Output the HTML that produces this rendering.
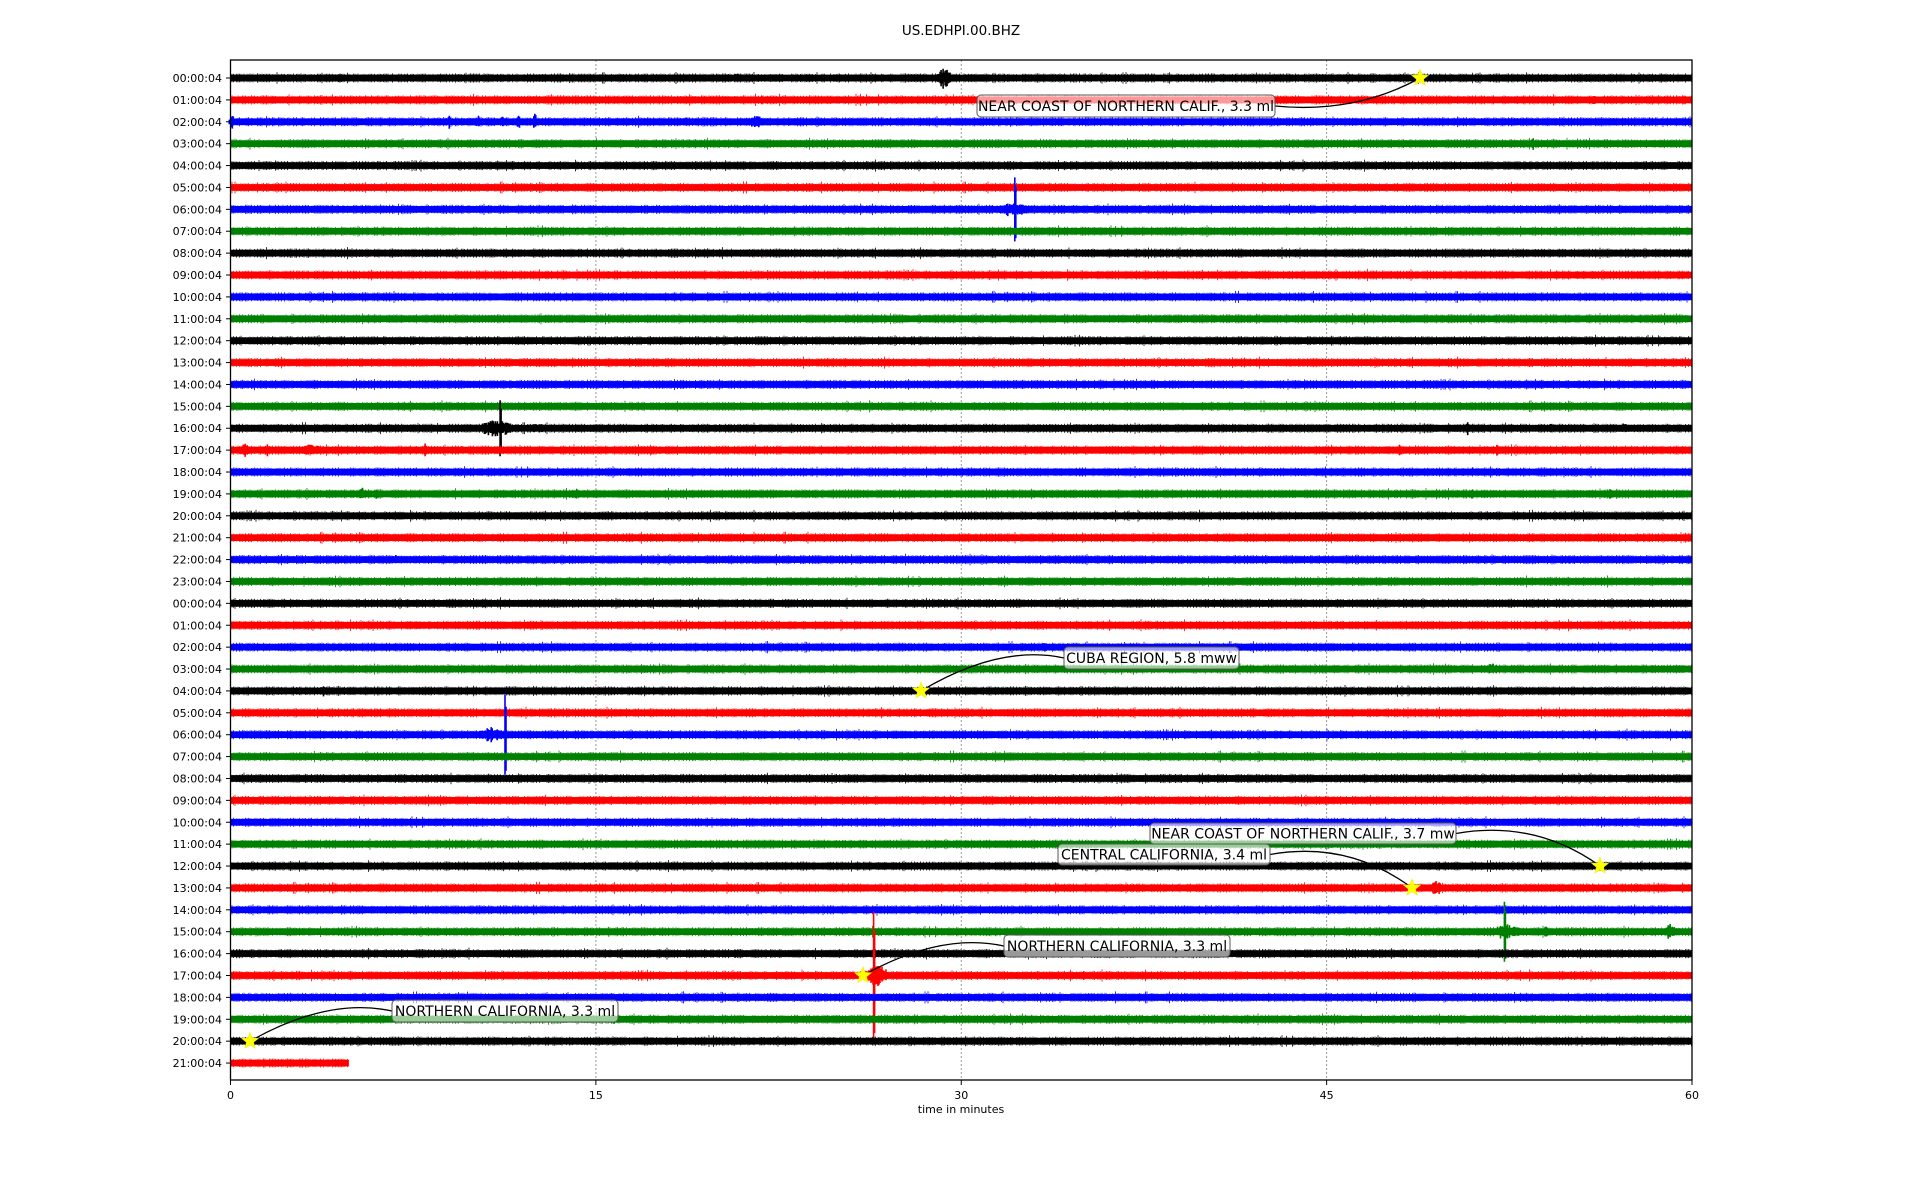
<!DOCTYPE html>
<html><head><meta charset="utf-8">
<style>
html,body{margin:0;padding:0;background:#fff;}
svg{display:block;font-family:"DejaVu Sans","Liberation Sans",sans-serif;}
</style></head>
<body>
<svg id="s" width="1920" height="1200" viewBox="0 0 1920 1200" xmlns="http://www.w3.org/2000/svg">
<rect width="1920" height="1200" fill="#fff"/>
<text x="961" y="35" font-size="13.5" text-anchor="middle">US.EDHPI.00.BHZ</text>
<g id="grid" stroke="#999" stroke-width="1" stroke-dasharray="2,2">
<line x1="595.9" y1="60" x2="595.9" y2="1080"/>
<line x1="961.3" y1="60" x2="961.3" y2="1080"/>
<line x1="1326.6" y1="60" x2="1326.6" y2="1080"/>
</g>
<g id="traces"></g>
<g id="ann"></g>
<rect x="230.5" y="60" width="1461.5" height="1020" fill="none" stroke="#000" stroke-width="1.3"/>
<g id="ticks" font-size="11"></g>
<text x="961" y="1113" font-size="11" text-anchor="middle">time in minutes</text>
</svg>
<script>
(function(){
var NS="http://www.w3.org/2000/svg";
var seed=12345;function rnd(){seed=(seed*1103515245+12345)&0x7fffffff;return seed/0x7fffffff;}
var L=230.5,R=1692,W=R-L;function X(m){return L+m*W/60;}
function Y(i){return 78+21.89*i;}
var cols=["#000","#f00","#00f","#008000"];
var labels=[];for(var i=0;i<46;i++){var h=i%24;labels.push((h<10?"0":"")+h+":00:04");}
var ev={
0:[[29.3,11,0.5,'b'],[4.5,5,0.3,'b'],[20.8,6,0.2,'b']],
1:[[56,5,0.2,'b'],[59.7,5,0.3,'b'],[21.8,4,0.3,'b'],[26.2,4,0.1,'b'],[23.8,3,0.2,'b']],
2:[[0.1,7,0.3,'b'],[9,7,0.2,'b'],[10.2,7,0.2,'b'],[11.2,6,0.3,'b'],[11.8,8,0.2,'b'],[12.5,9,0.1,'b'],[18.7,5,0.3,'b'],[21.6,8,0.4,'b']],
3:[[53.5,6,0.2,'b'],[23.7,4,0.3,'b']],
6:[[32.2,32,0.05,'s'],[32.1,7,1.2,'b']],
16:[[11.07,28,0.05,'s'],[10.9,9,1.2,'b'],[12.6,6,0.5,'b'],[50.8,7,0.1,'b'],[54.2,5,0.2,'b'],[57.2,6,0.3,'b'],[59.9,5,0.1,'b']],
15:[[11.07,5,0.2,'b']],
17:[[0.6,7,0.4,'b'],[1.5,6,0.3,'b'],[3.3,7,0.8,'b'],[8,8,0.1,'b'],[9.5,5,0.3,'b'],[48,6,0.2,'b'],[52,6,0.1,'b'],[17.3,4,0.2,'b'],[23.6,5,0.1,'b'],[56.3,4,0.2,'b']],
18:[[3.3,4,0.2,'b'],[29.6,4,0.2,'b'],[51,5,0.1,'b']],
19:[[5.4,7,0.2,'b'],[6,5,0.2,'b'],[14.2,6,0.3,'b'],[51,6,0.1,'b'],[56.7,6,0.3,'b']],
20:[[2.6,4,0.2,'b'],[18.8,4,0.2,'b']],
21:[[28.8,4,0.2,'b'],[51.6,5,0.2,'b'],[56,4,0.2,'b']],
22:[[6.8,5,0.6,'b'],[12.9,4,0.2,'b'],[20.5,4,0.2,'b'],[55,4,0.2,'b']],
23:[[17.1,4,0.3,'b'],[22.2,4,0.2,'b']],
24:[[10.4,6,0.1,'b']],
26:[[33.4,6,0.1,'b']],
27:[[51.8,6,0.5,'b']],
28:[[3.8,5,0.7,'b']],
30:[[11.27,40,0.05,'s'],[10.7,8,0.9,'b']],
37:[[49.5,7,0.5,'b'],[32.8,4,0.1,'b']],
39:[[52.3,30,0.05,'s'],[52.4,8,1.1,'b'],[54,6,0.3,'b'],[59.1,8,0.4,'b']],
41:[[26.4,64,0.05,'s'],[26.5,12,0.9,'b'],[35,5,0.2,'b'],[36.8,4,0.1,'b']],
42:[[14.4,6,0.1,'b'],[12,4,0.3,'b'],[18.8,4,0.2,'b'],[53.9,4,0.2,'b']],
43:[[15.7,5,0.3,'b'],[41.5,4,0.3,'b']],
40:[[20.8,5,0.3,'b']]
};
var g=document.getElementById('traces');
for(var i=0;i<46;i++){
  var y=Y(i),c=cols[i%4];
  var end=(i==45)?4.86:60;
  var x1=X(end);
  var r=document.createElementNS(NS,'rect');
  r.setAttribute('x',L);r.setAttribute('y',y-3.3);r.setAttribute('width',x1-L);r.setAttribute('height',6.6);r.setAttribute('fill',c);
  g.appendChild(r);
  var d="",step=1.5;
  for(var x=L;x<x1;x+=step){
    var a=3.3+rnd()*1.3;
    if(rnd()<0.02)a+=1.5;
    d+="M"+x.toFixed(1)+" "+(y-a).toFixed(1)+"V"+(y+a).toFixed(1);
  }
  var p=document.createElementNS(NS,'path');p.setAttribute('d',d);p.setAttribute('stroke',c);p.setAttribute('stroke-width','0.8');
  g.appendChild(p);
  var e=ev[i]||[];
  var dd="";
  for(var k=0;k<e.length;k++){
    var m=e[k][0],A=e[k][1],w=e[k][2],t=e[k][3];
    if(t=='s'){
      var xs=X(m);dd+="M"+xs.toFixed(1)+" "+(y-A)+"V"+(y+A);
      dd+="M"+(xs+1).toFixed(1)+" "+(y-A*0.7)+"V"+(y+A*0.9);
    } else {
      var xa=X(m-w/2),xb=X(m+w/2);
      for(var x=xa;x<=xb;x+=1){
        var f=1-Math.abs((x-(xa+xb)/2)/((xb-xa)/2+0.5))*0.5;
        var a=A*f*(0.5+rnd()*0.5);
        dd+="M"+x.toFixed(1)+" "+(y-a).toFixed(1)+"V"+(y+a*(0.6+rnd()*0.6)).toFixed(1);
      }
    }
  }
  if(dd){var q=document.createElementNS(NS,'path');q.setAttribute('d',dd);q.setAttribute('stroke',c);q.setAttribute('stroke-width','1.6');g.appendChild(q);}
}
var tk=document.getElementById('ticks'),h="";
for(var i=0;i<46;i++){var y=Y(i);
 h+='<line x1="226" y1="'+y+'" x2="230.5" y2="'+y+'" stroke="#000" stroke-width="1"/>';
 h+='<text x="222" y="'+(y+4)+'" text-anchor="end">'+labels[i]+'</text>';}
var xt=[0,15,30,45,60];
for(var j=0;j<5;j++){var x=X(xt[j]);
 h+='<line x1="'+x+'" y1="1080" x2="'+x+'" y2="1085" stroke="#000" stroke-width="1"/>';
 h+='<text x="'+x+'" y="1099" text-anchor="middle">'+xt[j]+'</text>';}
tk.innerHTML=h;
function star(cx,cy){var s="";for(var k=0;k<10;k++){var r=(k%2==0)?9:3.8;var a=-Math.PI/2+k*Math.PI/5;s+=(cx+r*Math.cos(a)).toFixed(1)+","+(cy+r*Math.sin(a)).toFixed(1)+" ";}return '<polygon points="'+s+'" fill="#ff0" stroke="#ee0" stroke-width="0.5"/>';}
var A=[
 ["NEAR COAST OF NORTHERN CALIF., 3.3 ml",977,95,298,22,1420,Y(0),'r'],
 ["CUBA REGION, 5.8 mww",1064,647,175,22,921,Y(28),'l'],
 ["NEAR COAST OF NORTHERN CALIF., 3.7 mw",1150,823,306,21,1600,Y(36),'r'],
 ["CENTRAL CALIFORNIA, 3.4 ml",1058,844,212,21,1412,Y(37),'r'],
 ["NORTHERN CALIFORNIA, 3.3 ml",1004,935,226,22,863,Y(41),'l'],
 ["NORTHERN CALIFORNIA, 3.3 ml",392,1000,226,22,250,Y(44),'l']
];
var a="";
for(var k=0;k<A.length;k++){var t=A[k];
 var bx=t[1],by=t[2],bw=t[3],bh=t[4],sx=t[5],sy=t[6];
 var ax=(t[7]=='r')?bx+bw:bx, ay=by+bh/2;
 a+='<path d="M'+ax+' '+ay+' Q'+((t[7]=='r')?(ax+(sx-ax)*0.55):(ax+(sx-ax)*0.45))+' '+(ay+ (sy<ay? 8:-14))+' '+sx+' '+sy+'" fill="none" stroke="#000" stroke-width="1.3"/>';
 a+='<rect x="'+bx+'" y="'+by+'" width="'+bw+'" height="'+bh+'" rx="4" fill="#fff" fill-opacity="0.6" stroke="#555" stroke-width="1"/>';
 a+='<text x="'+(bx+bw/2)+'" y="'+(by+bh/2+5)+'" font-size="14" text-anchor="middle">'+t[0]+'</text>';
 a+=star(sx,sy);
}
document.getElementById('ann').innerHTML=a;
})();
</script>
</body></html>
